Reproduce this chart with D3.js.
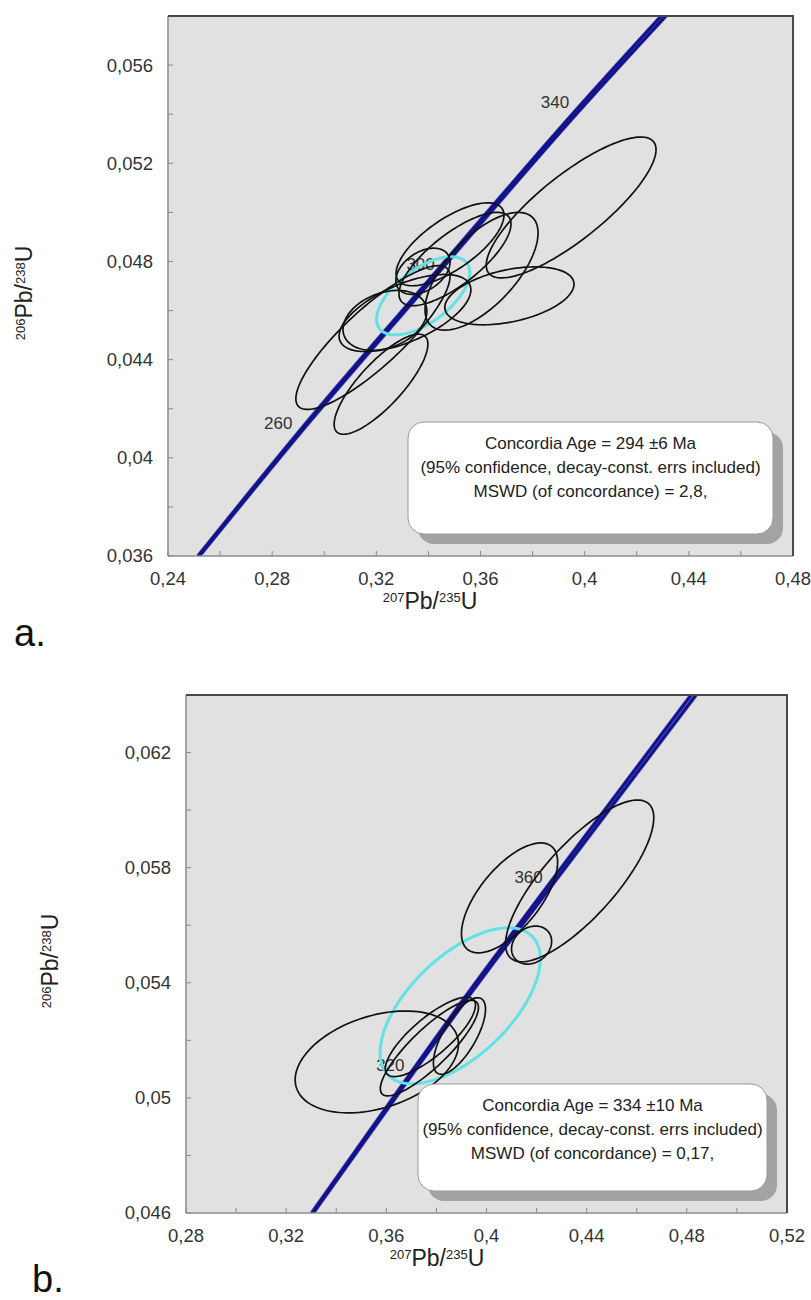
<!DOCTYPE html>
<html>
<head>
<meta charset="utf-8">
<script src="https://cdn.jsdelivr.net/npm/d3@7/dist/d3.min.js"></script>
<style>
  body { margin: 0; background: #fff; }
  svg { display: block; font-family: "Liberation Sans", Arial, sans-serif; }
</style>
</head>
<body>
<div class="chart"></div>
<script>
// ---- panel a data ----
const xTicksA = [0.24, 0.28, 0.32, 0.36, 0.40, 0.44, 0.48];
const xLabelsA = ['0,24', '0,28', '0,32', '0,36', '0,4', '0,44', '0,48'];
const yTicksA = [0.036, 0.040, 0.044, 0.048, 0.052, 0.056];
const yLabelsA = ['0,036', '0,04', '0,044', '0,048', '0,052', '0,056'];
// concordia: [207Pb/235U, 206Pb/238U]
const concordiaA = [[0.2518, 0.036], [0.2918, 0.0412], [0.3437, 0.0476], [0.3977, 0.0542], [0.4303, 0.058]];
const bandA = [0.0005, 0.0008, 0.0011, 0.0014, 0.0017];
const ageLabelsA = [['260', 0.2823, 0.0414], ['300', 0.3370, 0.0479], ['340', 0.3886, 0.0545]];
// error ellipses: [x, y, x half-extent, y half-extent, rho]
const ellipsesA = [
  [0.3948, 0.0502, 0.0326, 0.00287, 0.82],
  [0.3711, 0.0466, 0.0248, 0.00118, 0.40],
  [0.3604, 0.0476, 0.0217, 0.00240, 0.65],
  [0.3483, 0.0487, 0.0207, 0.00169, 0.70],
  [0.3502, 0.0481, 0.0215, 0.00190, 0.75],
  [0.3379, 0.0476, 0.0104, 0.00094, 0.40],
  [0.3310, 0.0459, 0.0253, 0.00157, 0.60],
  [0.3233, 0.0456, 0.0161, 0.00122, 0.30],
  [0.3187, 0.0449, 0.0296, 0.00293, 0.85],
  [0.3218, 0.0430, 0.0180, 0.00204, 0.80]
];
const ageEllipseA = [0.3380, 0.0466, 0.0179, 0.00159, 0.60];
const boxTextA = ['Concordia Age = 294 \u00b16 Ma', '(95% confidence, decay-const. errs included)', 'MSWD (of concordance) = 2,8,'];

// ---- panel b data ----
const xTicksB = [0.28, 0.32, 0.36, 0.40, 0.44, 0.48, 0.52];
const xLabelsB = ['0,28', '0,32', '0,36', '0,4', '0,44', '0,48', '0,52'];
const yTicksB = [0.046, 0.050, 0.054, 0.058, 0.062];
const yLabelsB = ['0,046', '0,05', '0,054', '0,058', '0,062'];
const concordiaB = [[0.3305, 0.046], [0.3705, 0.0509], [0.3895, 0.0532], [0.4255, 0.0574], [0.4827, 0.064]];
const bandB = [0.0006, 0.0009, 0.0011, 0.0014, 0.0019];
const ageLabelsB = [['320', 0.3616, 0.05114], ['360', 0.4168, 0.05768]];
const ellipsesB = [
  [0.4092, 0.05695, 0.0192, 0.00191, 0.65],
  [0.4372, 0.05754, 0.0296, 0.00281, 0.78],
  [0.4180, 0.05531, 0.0080, 0.00066, 0.20],
  [0.3562, 0.05125, 0.0326, 0.00177, 0.35],
  [0.3892, 0.05215, 0.0104, 0.00133, 0.70],
  [0.3776, 0.05212, 0.0180, 0.00138, 0.80],
  [0.3772, 0.05173, 0.0196, 0.00166, 0.85]
];
const ageEllipseB = [0.3895, 0.0532, 0.0320, 0.00271, 0.60];
const boxTextB = ['Concordia Age = 334 \u00b110 Ma', '(95% confidence, decay-const. errs included)', 'MSWD (of concordance) = 0,17,'];

const svg = d3.select('.chart').append('svg')
  .attr('width', 811)
  .attr('height', 1300);

svg.append('rect').attr('width', 811).attr('height', 1300).attr('fill', '#fff');

const ellipsePoints = (e) => {
  const [cx, cy, ex, ey, rho] = e;
  const k = Math.sqrt(1 - rho * rho);
  return d3.range(0, 121).map(i => {
    const t = i / 120 * 2 * Math.PI;
    return [cx + ex * Math.cos(t), cy + ey * (rho * Math.cos(t) + k * Math.sin(t))];
  });
};

const drawPanel = (p) => {
  const g = svg.append('g');
  const x = d3.scaleLinear().domain(p.xDomain).range([p.left, p.right]);
  const y = d3.scaleLinear().domain(p.yDomain).range([p.bottom, p.top]);

  const clipId = 'clip-' + p.name;
  g.append('clipPath').attr('id', clipId)
    .append('rect')
    .attr('x', p.left).attr('y', p.top)
    .attr('width', p.right - p.left).attr('height', p.bottom - p.top);

  g.append('rect')
    .attr('x', p.left).attr('y', p.top)
    .attr('width', p.right - p.left).attr('height', p.bottom - p.top)
    .attr('fill', '#e1e1e1');

  // minor + major ticks, pointing inside
  const xMinor = d3.range(p.xDomain[0], p.xDomain[1] + 1e-9, 0.02);
  g.selectAll('.xt').data(xMinor).enter().append('line')
    .attr('x1', d => x(d)).attr('x2', d => x(d))
    .attr('y1', p.bottom).attr('y2', p.bottom - 5)
    .attr('stroke', '#8a8a8a').attr('stroke-width', 1);
  const yMinor = d3.range(p.yDomain[0], p.yDomain[1] + 1e-9, 0.002);
  g.selectAll('.yt').data(yMinor).enter().append('line')
    .attr('x1', p.left).attr('x2', p.left + 5)
    .attr('y1', d => y(d)).attr('y2', d => y(d))
    .attr('stroke', '#8a8a8a').attr('stroke-width', 1);

  const plot = g.append('g').attr('clip-path', `url(#${clipId})`);

  // age labels on the concordia (under the ellipses)
  plot.selectAll('.age').data(p.ages).enter().append('text')
    .attr('x', d => x(d[1])).attr('y', d => y(d[2]))
    .attr('dy', '0.35em')
    .attr('text-anchor', 'middle')
    .attr('font-size', 17)
    .attr('fill', '#333')
    .text(d => d[0]);

  const line = d3.line().x(d => x(d[0])).y(d => y(d[1])).curve(d3.curveMonotoneX);
  const edgeLo = p.concordia.map((d, i) => [d[0] - p.band[i] / 2, d[1]]);
  const edgeHi = p.concordia.map((d, i) => [d[0] + p.band[i] / 2, d[1]]);
  [edgeLo, edgeHi].forEach(edge => {
    plot.append('path')
      .attr('d', line(edge))
      .attr('fill', 'none')
      .attr('stroke', '#5a5ab8')
      .attr('stroke-width', 4);
  });
  [edgeLo, edgeHi].forEach(edge => {
    plot.append('path')
      .attr('d', line(edge))
      .attr('fill', 'none')
      .attr('stroke', '#12128a')
      .attr('stroke-width', 2.8);
  });

  const closed = d3.line().x(d => x(d[0])).y(d => y(d[1])).curve(d3.curveLinearClosed);

  plot.append('path')
    .attr('d', closed(ellipsePoints(p.ageEllipse)))
    .attr('fill', 'none')
    .attr('stroke', '#62e2e2')
    .attr('stroke-width', 3);

  plot.selectAll('.ell').data(p.ellipses).enter().append('path')
    .attr('d', d => closed(ellipsePoints(d)))
    .attr('fill', 'none')
    .attr('stroke', '#111')
    .attr('stroke-width', 1.7);

  // frame: lighter left/bottom, darker top/right
  g.append('line').attr('x1', p.left).attr('x2', p.left).attr('y1', p.top).attr('y2', p.bottom)
    .attr('stroke', '#8c8c8c').attr('stroke-width', 1.5);
  g.append('line').attr('x1', p.left).attr('x2', p.right).attr('y1', p.bottom).attr('y2', p.bottom)
    .attr('stroke', '#8c8c8c').attr('stroke-width', 1.5);
  g.append('line').attr('x1', p.left).attr('x2', p.right + 1).attr('y1', p.top).attr('y2', p.top)
    .attr('stroke', '#4a4a4a').attr('stroke-width', 2);
  g.append('line').attr('x1', p.right).attr('x2', p.right).attr('y1', p.top).attr('y2', p.bottom)
    .attr('stroke', '#4a4a4a').attr('stroke-width', 2);

  // result box with shadow
  const b = p.box;
  g.append('rect')
    .attr('x', b.x + 10).attr('y', b.y + 10)
    .attr('width', b.w).attr('height', b.h)
    .attr('rx', 16).attr('fill', '#a3a3a3');
  g.append('rect')
    .attr('x', b.x).attr('y', b.y)
    .attr('width', b.w).attr('height', b.h)
    .attr('rx', 16).attr('fill', '#fff')
    .attr('stroke', '#9a9a9a').attr('stroke-width', 1);
  g.selectAll('.bt').data(p.boxText).enter().append('text')
    .attr('x', b.x + b.w / 2)
    .attr('y', (d, i) => b.y + 21 + i * 24)
    .attr('dy', '0.35em')
    .attr('text-anchor', 'middle')
    .attr('font-size', 17)
    .attr('fill', '#222')
    .text(d => d);

  // tick labels
  g.selectAll('.xl').data(p.xTicks).enter().append('text')
    .attr('x', d => x(d)).attr('y', p.bottom + 29)
    .attr('text-anchor', 'middle')
    .attr('font-size', 18.5).attr('fill', '#333')
    .text((d, i) => p.xLabels[i]);
  g.selectAll('.yl').data(p.yTicks).enter().append('text')
    .attr('x', p.left - 15).attr('y', d => y(d))
    .attr('dy', '0.35em')
    .attr('text-anchor', 'end')
    .attr('font-size', 18.5).attr('fill', '#333')
    .text((d, i) => p.yLabels[i]);

  // axis titles
  const xt = g.append('text')
    .attr('x', p.xTitle[0]).attr('y', p.xTitle[1])
    .attr('text-anchor', 'middle').attr('fill', '#222');
  xt.append('tspan').attr('font-size', 13).attr('dy', -7).text('207');
  xt.append('tspan').attr('font-size', 23).attr('dy', 7).text('Pb/');
  xt.append('tspan').attr('font-size', 13).attr('dy', -7).text('235');
  xt.append('tspan').attr('font-size', 23).attr('dy', 7).text('U');

  const yt = g.append('text')
    .attr('transform', `translate(${p.yTitle[0]},${p.yTitle[1]}) rotate(-90)`)
    .attr('text-anchor', 'middle').attr('fill', '#222');
  yt.append('tspan').attr('font-size', 13).attr('dy', -7).text('206');
  yt.append('tspan').attr('font-size', 23).attr('dy', 7).text('Pb/');
  yt.append('tspan').attr('font-size', 13).attr('dy', -7).text('238');
  yt.append('tspan').attr('font-size', 23).attr('dy', 7).text('U');

  g.append('text')
    .attr('x', p.letter[0]).attr('y', p.letter[1])
    .attr('font-size', 38).attr('fill', '#111')
    .text(p.letter[2]);
};

drawPanel({
  name: 'a',
  left: 168, right: 793, top: 16, bottom: 556,
  xDomain: [0.24, 0.48], yDomain: [0.036, 0.058],
  xTicks: xTicksA, xLabels: xLabelsA, yTicks: yTicksA, yLabels: yLabelsA,
  concordia: concordiaA, band: bandA, ages: ageLabelsA,
  ellipses: ellipsesA, ageEllipse: ageEllipseA,
  box: { x: 408, y: 422, w: 365, h: 112 }, boxText: boxTextA,
  xTitle: [430, 609], yTitle: [32, 293], letter: [14, 646, 'a.']
});

drawPanel({
  name: 'b',
  left: 186, right: 787, top: 695, bottom: 1213,
  xDomain: [0.28, 0.52], yDomain: [0.046, 0.064],
  xTicks: xTicksB, xLabels: xLabelsB, yTicks: yTicksB, yLabels: yLabelsB,
  concordia: concordiaB, band: bandB, ages: ageLabelsB,
  ellipses: ellipsesB, ageEllipse: ageEllipseB,
  box: { x: 418, y: 1084, w: 349, h: 107 }, boxText: boxTextB,
  xTitle: [437, 1266], yTitle: [58, 961], letter: [32, 1292, 'b.']
});
</script>
</body>
</html>
